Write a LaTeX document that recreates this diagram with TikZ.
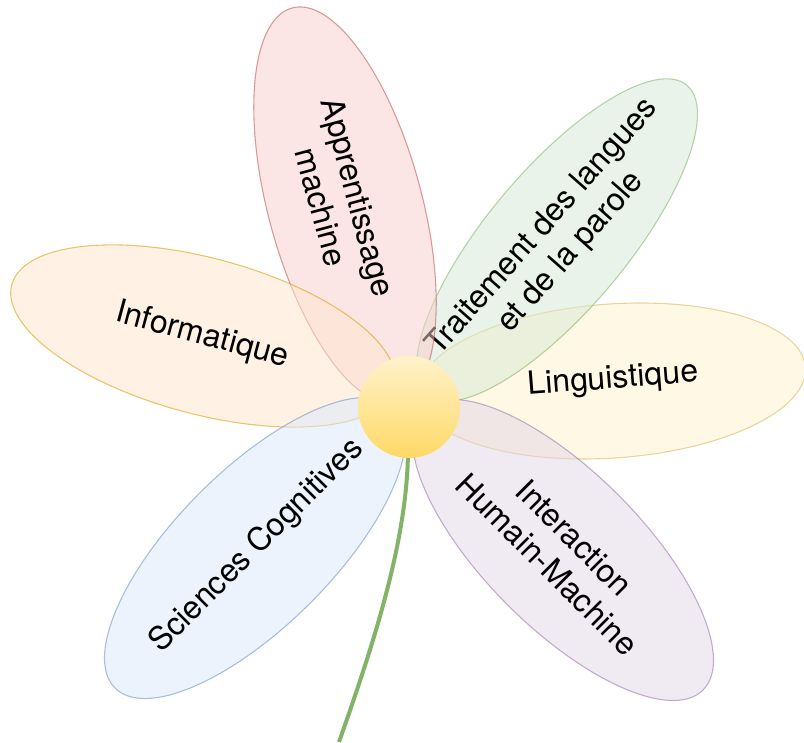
\documentclass[tikz,border=0pt]{standalone}
\usepackage{fontspec}
\setmainfont{TeX Gyre Heros}
\usetikzlibrary{shapes.geometric}
\definecolor{redF}{HTML}{F8CECC}\definecolor{redS}{HTML}{B85450}
\definecolor{greenF}{HTML}{D5E8D4}\definecolor{greenS}{HTML}{82B366}
\definecolor{yelF}{HTML}{FFF2CC}\definecolor{yelS}{HTML}{D6B656}
\definecolor{orF}{HTML}{FFE6CC}\definecolor{orS}{HTML}{D79B00}
\definecolor{purF}{HTML}{E1D5E7}\definecolor{purS}{HTML}{9673A6}
\definecolor{bluF}{HTML}{DAE8FC}\definecolor{bluS}{HTML}{6C8EBF}
\definecolor{sunTop}{HTML}{FFF2CC}\definecolor{sunBot}{HTML}{FFD966}
\begin{document}
\begin{tikzpicture}[x=1pt,y=-1pt,
  petal/.style={ellipse, inner sep=0pt, outer sep=0pt, fill opacity=0.5, draw opacity=0.55, line width=1.1pt},
  lbl/.style={text=black, font=\fontsize{32}{38}\selectfont, align=center, inner sep=0pt},
  stem/.style={draw=greenS, line width=4pt}
]
\useasboundingbox (0,0) rectangle (804,743);

% Linguistique
\node[petal, draw=yelS, fill=yelF, minimum width=388pt, minimum height=154pt, rotate=4] (pLing) at (612,381) {};
\node[lbl, rotate=4.5] (tLing) at (613,380) {Linguistique};

% Traitement des langues et de la parole
\node[petal, draw=greenS, fill=greenF, minimum width=404pt, minimum height=140pt, rotate=50] (pTAL) at (557,240) {};
\node[lbl, rotate=48.5] (tTAL) at (557,240) {Traitement des langues\\et de la parole};

% Apprentissage machine
\node[petal, draw=redS, fill=redF, minimum width=408pt, minimum height=154pt, rotate=105] (pApp) at (345,205) {};
\node[lbl, rotate=-75] (tApp) at (340,202) {Apprentissage\\machine};

% Informatique
\node[petal, draw=orS, fill=orF, minimum width=396pt, minimum height=156pt, rotate=-15] (pInf) at (203,336) {};
\node[lbl, rotate=-15] (tInf) at (202,336) {Informatique};

% Sciences Cognitives
\node[petal, draw=bluS, fill=bluF, minimum width=396pt, minimum height=156pt, rotate=45] (pSC) at (255,548) {};
\node[lbl, rotate=45] (tSC) at (257,546) {Sciences Cognitives};

% Interaction Humain-Machine
\node[petal, draw=purS, fill=purF, minimum width=396pt, minimum height=156pt, rotate=-45] (pIHM) at (563,550) {};
\node[lbl, rotate=-45] (tIHM) at (561,551) {Interaction\\Humain-Machine};

% stem and heart
\coordinate (stemEnd) at (339,742);
\coordinate (stemTop) at (408,452);
\draw[stem] (stemTop) .. controls (407,540) and (375,640) .. (stemEnd);
\node[circle, minimum size=102pt, inner sep=0pt, top color=sunTop, bottom color=sunBot, draw=none] (heart) at (409,407) {};
\end{tikzpicture}
\end{document}
